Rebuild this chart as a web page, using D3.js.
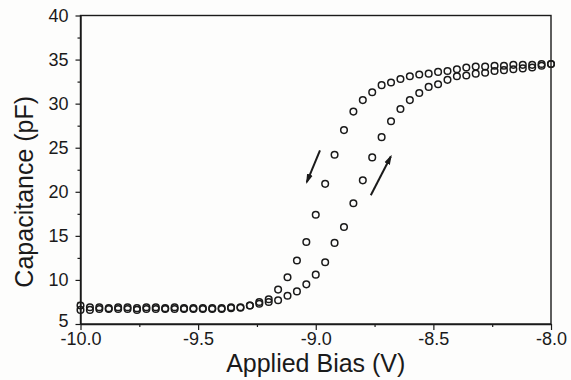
<!DOCTYPE html>
<html>
<head>
<meta charset="utf-8">
<script src="https://cdn.jsdelivr.net/npm/d3@7"></script>
<style>
  body { margin: 0; background: #fdfdfc; }
  svg { display: block; font-family: "Liberation Sans", Arial, sans-serif; }
</style>
</head>
<body>
<div id="chart"></div>
<script>
// bias sweep, -10 V to -8 V in 0.04 V steps
const bias = d3.range(51).map(i => -10 + i * 0.04);

// forward sweep (switches at the higher bias)
const capUp = [6.6, 6.6, 6.7, 6.7, 6.7, 6.7, 6.6, 6.7, 6.7, 6.7,
  6.7, 6.7, 6.7, 6.7, 6.7, 6.7, 6.8, 6.85, 7.1, 7.3,
  7.5, 7.7, 8.2, 8.7, 9.5, 10.6, 12.0, 14.2, 16.0, 18.7,
  21.3, 23.9, 26.2, 28.0, 29.4, 30.4, 31.2, 31.9, 32.2, 32.7,
  33.1, 33.2, 33.4, 33.5, 33.7, 33.8, 33.9, 34.0, 34.1, 34.3, 34.5];

// reverse sweep (switches at the lower bias)
const capDown = [7.1, 6.9, 6.9, 6.8, 6.9, 6.9, 6.8, 6.9, 6.9, 6.8,
  6.9, 6.8, 6.8, 6.8, 6.8, 6.8, 6.9, 6.9, 7.1, 7.5,
  7.8, 8.9, 10.3, 12.2, 14.3, 17.4, 20.9, 24.2, 27.0, 29.1,
  30.4, 31.3, 32.1, 32.4, 32.8, 33.1, 33.3, 33.4, 33.6, 33.7,
  33.9, 34.1, 34.2, 34.2, 34.3, 34.3, 34.4, 34.4, 34.4, 34.5, 34.5];

// sweep direction arrows [x1, y1, x2, y2] in data units (head at second point)
const arrows = [[-8.982, 24.7, -9.038, 21.1], [-8.766, 19.6, -8.681, 24.0]];

const xTicks = [-10, -9.5, -9, -8.5, -8];
const xMinor = [-9.75, -9.25, -8.75, -8.25];
const yTicks = [5, 10, 15, 20, 25, 30, 35, 40];
const yMinor = [7.5, 12.5, 17.5, 22.5, 27.5, 32.5, 37.5];

const width = 571, height = 380;
const mLeft = 80.5, mRight = 551, mTop = 15.5, mBottom = 324;
const ink = "#1a1a1a";

const svg = d3.select("#chart").append("svg")
  .attr("width", width)
  .attr("height", height);

const x = d3.scaleLinear().domain([-10, -8]).range([mLeft, mRight]);
const y = d3.scaleLinear().domain([5, 40]).range([mBottom, mTop]);

svg.append("defs").append("marker")
  .attr("id", "head")
  .attr("viewBox", "0 0 10 10")
  .attr("refX", 8).attr("refY", 5)
  .attr("markerWidth", 5).attr("markerHeight", 5)
  .attr("orient", "auto")
  .append("path")
  .attr("d", "M0,2L10,5L0,8Z")
  .attr("fill", ink);

// frame
svg.append("rect")
  .attr("x", mLeft).attr("y", mTop)
  .attr("width", mRight - mLeft).attr("height", mBottom - mTop)
  .attr("fill", "none").attr("stroke", ink).attr("stroke-width", 1.4);

svg.append("g")
  .attr("transform", `translate(0,${mBottom})`)
  .call(d3.axisBottom(x).tickValues(xTicks).tickFormat(d3.format(".1f")).tickSize(6).tickPadding(2).tickSizeOuter(0));
svg.append("g")
  .attr("transform", `translate(0,${mBottom})`)
  .call(d3.axisBottom(x).tickValues(xMinor).tickFormat("").tickSize(3).tickSizeOuter(0))
  .select(".domain").remove();

const yAxis = svg.append("g")
  .attr("transform", `translate(${mLeft},0)`)
  .call(d3.axisLeft(y).tickValues(yTicks).tickSize(5).tickPadding(7).tickSizeOuter(0));
svg.append("g")
  .attr("transform", `translate(${mLeft},0)`)
  .call(d3.axisLeft(y).tickValues(yMinor).tickFormat("").tickSize(3).tickSizeOuter(0))
  .select(".domain").remove();

svg.selectAll(".tick line").attr("stroke", ink).attr("stroke-width", 1.2);
svg.selectAll(".domain").attr("stroke", ink).attr("stroke-width", 1.4);
svg.selectAll(".tick text")
  .attr("fill", ink)
  .attr("font-size", 18)
  .attr("font-family", "Liberation Sans, Arial, sans-serif")
  .text(function () { return d3.select(this).text().replace("\u2212", "-"); });

// the bottom "5" sits just above the "-10.0" label
yAxis.selectAll(".tick text").filter(d => d === 5).attr("dy", "0.12em");

// axis titles
svg.append("text")
  .attr("x", (mLeft + mRight) / 2).attr("y", 372)
  .attr("text-anchor", "middle")
  .attr("font-size", 25)
  .attr("fill", ink)
  .text("Applied Bias (V)");

svg.append("text")
  .attr("transform", `translate(33,${(mTop + mBottom) / 2 + 22}) rotate(-90)`)
  .attr("text-anchor", "middle")
  .attr("font-size", 25)
  .attr("fill", ink)
  .text("Capacitance (pF)");

// data points
const series = [capUp, capDown];
series.forEach(vals => {
  svg.append("g")
    .selectAll("circle")
    .data(vals)
    .join("circle")
    .attr("cx", (d, i) => x(bias[i]))
    .attr("cy", d => y(d))
    .attr("r", 3.3)
    .attr("fill", "none")
    .attr("stroke", ink)
    .attr("stroke-width", 1.5);
});

svg.append("g")
  .selectAll("line")
  .data(arrows)
  .join("line")
  .attr("x1", d => x(d[0])).attr("y1", d => y(d[1]))
  .attr("x2", d => x(d[2])).attr("y2", d => y(d[3]))
  .attr("stroke", ink)
  .attr("stroke-width", 2)
  .attr("marker-end", "url(#head)");
</script>
</body>
</html>
